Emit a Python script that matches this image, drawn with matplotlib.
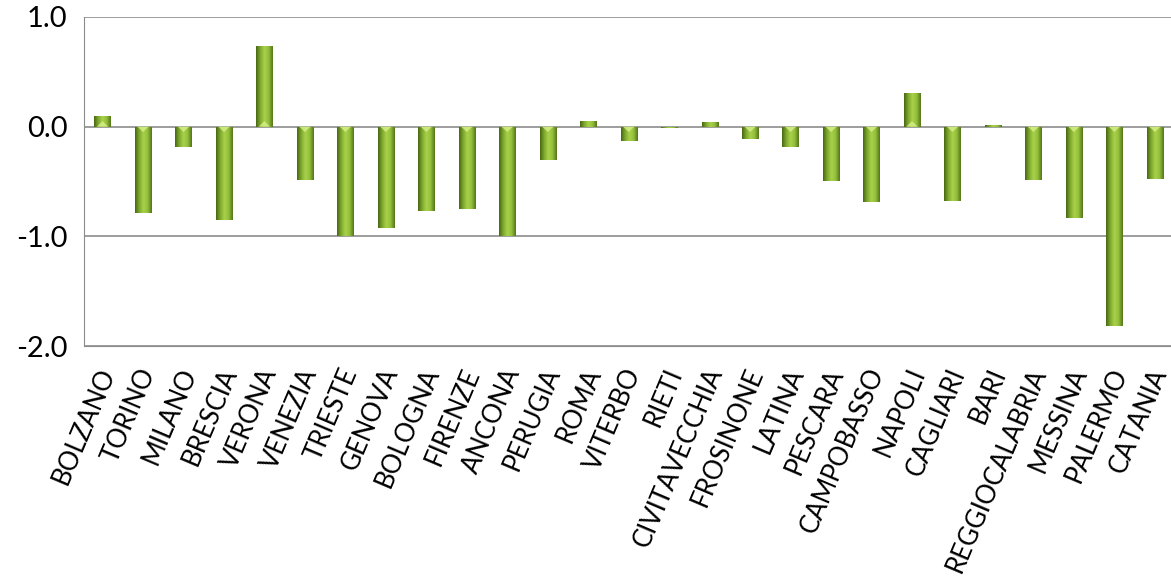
import numpy as np
import matplotlib
matplotlib.use("Agg")
import matplotlib.pyplot as plt
import matplotlib.transforms as mtransforms
from matplotlib.colors import LinearSegmentedColormap

cities = ["BOLZANO", "TORINO", "MILANO", "BRESCIA", "VERONA", "VENEZIA", "TRIESTE",
          "GENOVA", "BOLOGNA", "FIRENZE", "ANCONA", "PERUGIA", "ROMA", "VITERBO",
          "RIETI", "CIVITAVECCHIA", "FROSINONE", "LATINA", "PESCARA", "CAMPOBASSO",
          "NAPOLI", "CAGLIARI", "BARI", "REGGIOCALABRIA", "MESSINA", "PALERMO", "CATANIA"]
values = [0.10, -0.79, -0.19, -0.85, 0.73, -0.49, -1.00, -0.92, -0.77, -0.75,
          -1.00, -0.30, 0.05, -0.13, -0.01, 0.04, -0.11, -0.19, -0.50, -0.69,
          0.31, -0.68, 0.01, -0.49, -0.83, -1.82, -0.48]
yticks = [1.0, 0.0, -1.0, -2.0]

plt.rcParams['font.family'] = ['Lato', 'DejaVu Sans']

fig = plt.figure(figsize=(11.71, 5.78), dpi=100)
ax = fig.add_axes([0.072, 0.401, 0.928, 0.570])

x = np.arange(len(cities))
bars = ax.bar(x, values, width=0.4, color="#7fa72e", edgecolor="none", zorder=3)

# cylinder-like shading across each bar
cmap = LinearSegmentedColormap.from_list(
    "cyl", ["#4a6814", "#7ea92e", "#a9d24a", "#93bf3b", "#55761a"])
grad = np.linspace(0, 1, 64).reshape(1, -1)
for b in bars:
    x0, y0 = b.get_x(), b.get_y()
    w, h = b.get_width(), b.get_height()
    im = ax.imshow(grad, cmap=cmap, aspect="auto", zorder=4,
                   extent=[x0, x0 + w, min(y0, y0 + h), max(y0, y0 + h)])
    im.set_clip_path(b)
    # light chevron at the zero end of each bar
    d = 0.05 if h < 0 else -0.05
    if abs(h) > 0.06:
        ax.fill([x0 + w * 0.15, x0 + w * 0.85, x0 + w * 0.5],
                [y0, y0, y0 - d], color="#d8ef8a", alpha=0.8, zorder=5, lw=0)

ax.set_xlim(-0.45, len(cities) - 0.6)
ax.set_ylim(-2.0, 1.0)
ax.set_yticks(yticks)
ax.set_yticklabels([f"{v:.1f}" for v in yticks], fontsize=21)
ax.yaxis.grid(True, color="#8c8c8c", linewidth=1.2, zorder=1)
ax.set_xticks(x)
ax.set_xticklabels([])
ax.tick_params(axis="both", length=0, pad=12)

# category labels drawn as rotated texts below each bar
lbl_trans = ax.get_xaxis_transform() + mtransforms.ScaledTranslation(0.06, -0.23, fig.dpi_scale_trans)
for xi, name in zip(x, cities):
    ax.text(xi, 0, name, transform=lbl_trans, rotation=67, ha="right", va="center",
            rotation_mode="anchor", fontsize=18.5, clip_on=False)

for s in ["top", "right"]:
    ax.spines[s].set_visible(False)
ax.spines["left"].set_color("#8c8c8c")
ax.spines["bottom"].set_color("#8c8c8c")

fig.savefig("out.png", dpi=100)
